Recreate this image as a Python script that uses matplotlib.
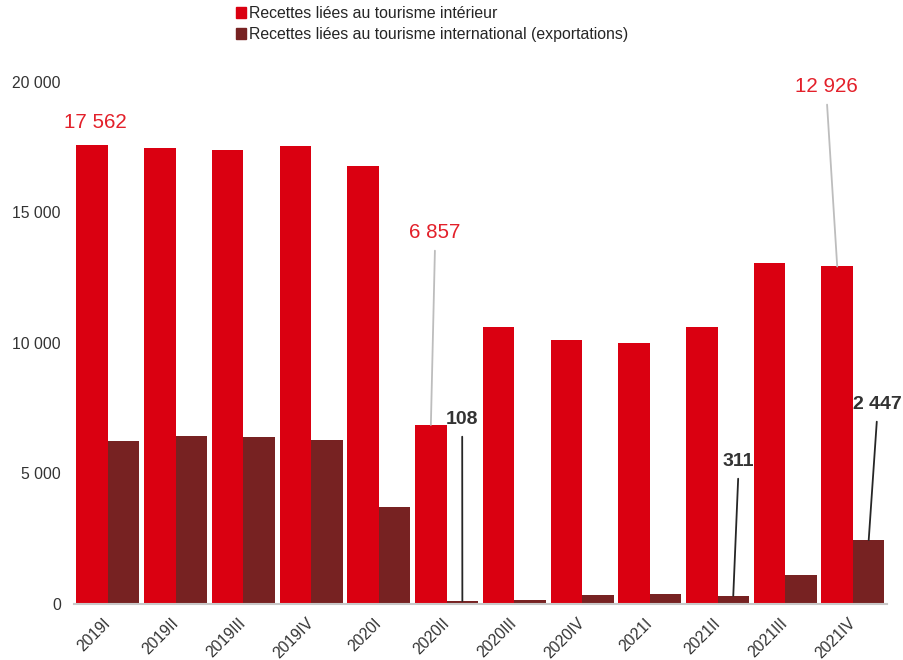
import numpy as np
import matplotlib
matplotlib.use("Agg")
import matplotlib.pyplot as plt
from matplotlib.patches import Patch
from matplotlib.transforms import ScaledTranslation

plt.rcParams.update({"font.family": ["Liberation Sans", "DejaVu Sans"], "font.size": 11.3})

quarters = ["2019I", "2019II", "2019III", "2019IV", "2020I", "2020II",
            "2020III", "2020IV", "2021I", "2021II", "2021III", "2021IV"]
interieur = [17562, 17480, 17400, 17560, 16780, 6857, 10610, 10120, 10010, 10610, 13060, 12926]
international = [6245, 6430, 6390, 6290, 3720, 108, 150, 330, 370, 311, 1100, 2447]
yticks = [0, 5000, 10000, 15000, 20000]

RED, DARK = "#DA0011", "#772222"
RED_TXT, DARK_TXT = "#E3202A", "#333333"

def fmt(v):
    return f"{v:,}".replace(",", " ")

fig = plt.figure(figsize=(9.04, 6.60), dpi=100)
ax = fig.add_axes([0.082, 0.085, 0.899, 0.791])
x = np.arange(len(quarters))
w = 0.465
ax.bar(x - w / 2, interieur, w, color=RED)
ax.bar(x + w / 2, international, w, color=DARK)

ax.set_xlim(-0.5, len(quarters) - 0.5)
ax.set_ylim(0, 20000)
ax.set_yticks(yticks, [fmt(v) for v in yticks], color="#333333", fontsize=11.3)
ax.set_xticks(x, quarters, rotation=45, ha="right", rotation_mode="anchor",
              color="#333333", fontsize=11.3)
shift = ScaledTranslation(0.05, 0.0, fig.dpi_scale_trans)
for lab in ax.get_xticklabels():
    lab.set_va("center")
    lab.set_transform(lab.get_transform() + shift)
ax.tick_params(length=0)
ax.tick_params(axis="x", pad=12)
ax.tick_params(axis="y", pad=9.5)
for s in ("top", "right", "left"):
    ax.spines[s].set_visible(False)
ax.spines["bottom"].set_color("#C8C8C8")
ax.spines["bottom"].set_linewidth(1.5)

# labels: (index, series, text position x, text position y, leader)
labels = [
    (0, "int", -0.19, 18450, False),
    (5, "int", 4.83, 14215, True),
    (11, "int", 10.61, 19810, True),
    (5, "ext", 5.23, 7050, True),
    (9, "ext", 9.31, 5440, True),
    (11, "ext", 11.36, 7625, True),
]
for i, ser, tx, ty, lead in labels:
    if ser == "int":
        v, bx, col, lc, fw = interieur[i], i - w / 2, RED_TXT, "#BDBDBD", "normal"
    else:
        v, bx, col, lc, fw = international[i], i + w / 2, DARK_TXT, "#262626", "bold"
    ap = dict(arrowstyle="-", color=lc, lw=1.3, relpos=(0.5, 0), shrinkA=4, shrinkB=0) if lead else None
    ax.annotate(fmt(v), xy=(bx, v), xytext=(tx, ty), textcoords="data",
                ha="center", va="center", color=col, fontweight=fw,
                fontsize=14.8 if ser == "int" else 14, arrowprops=ap)

handles = [Patch(color=RED), Patch(color=DARK)]
fig.legend(handles, ["Recettes liées au tourisme intérieur",
                     "Recettes liées au tourisme international (exportations)"],
           loc="upper left", bbox_to_anchor=(0.245, 1.012), frameon=False,
           handlelength=0.65, handleheight=0.65, handletextpad=0.2,
           labelspacing=0.35, fontsize=11.4, labelcolor="#262626")

fig.savefig("out.png", dpi=100)
